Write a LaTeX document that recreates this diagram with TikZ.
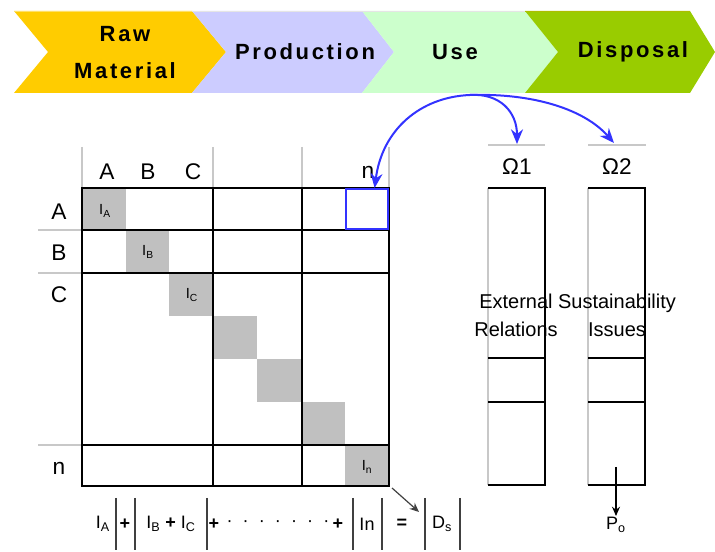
\documentclass[tikz,border=0pt]{standalone}
\usepackage{fontspec}
\setmainfont{Liberation Sans}
\newfontfamily\stagefont[LetterSpace=12]{Liberation Sans}
\usepackage{tikz}
\usetikzlibrary{arrows,arrows.meta}
\definecolor{rawgold}{HTML}{FFCC00}
\definecolor{prodlilac}{HTML}{CCCCFF}
\definecolor{usemint}{HTML}{CCFFCC}
\definecolor{dispgreen}{HTML}{99CC00}
\definecolor{cellgray}{HTML}{C0C0C0}
\definecolor{guidegray}{HTML}{C8C8C8}
\definecolor{linkblue}{HTML}{3333FF}

\begin{document}
\begin{tikzpicture}[x=0.75pt,y=0.75pt,yscale=-1,xscale=1]
  \useasboundingbox (0,0) rectangle (715,552);
  \tikzstyle{stage} = [font=\stagefont\bfseries\fontsize{16.5}{27.75}\selectfont, inner sep=0.75pt, align=center]
  \tikzstyle{hdr} = [font=\fontsize{17}{18}\selectfont, inner sep=0.75pt]
  \tikzstyle{small} = [font=\fontsize{11}{12}\selectfont, inner sep=0.75pt]
  \tikzstyle{sum} = [font=\fontsize{13.5}{15}\selectfont, inner sep=0.75pt]
  \tikzstyle{gridline} = [line width=1.5pt, black]
  \tikzstyle{guide} = [line width=1.1pt, guidegray]
  \tikzstyle{bar} = [line width=1pt, black!75]
  \tikzstyle{bluearrow} = [line width=1.5pt, linkblue, -{Stealth[length=11pt,width=9pt]}]
  \tikzstyle{arrow} = [line width=0.9pt, -{Stealth[length=7pt,width=6pt]}]

  %Draw the life cycle chevrons
  \fill [rawgold] (14,11) -- (192,11) -- (226,52) -- (192,93) -- (14,93) -- (48,52) -- cycle;
  \fill [prodlilac] (192,11) -- (362,11) -- (394,52) -- (362,93) -- (192,93) -- (226,52) -- cycle;
  \fill [usemint] (362,11) -- (525,11) -- (558,52) -- (525,93) -- (362,93) -- (394,52) -- cycle;
  \fill [dispgreen] (525,11) -- (690,11) -- (715,52) -- (690,93) -- (525,93) -- (558,52) -- cycle;
  \draw [line width=1.2pt, rawgold!60] (14,11.5) -- (192,11.5);
  \draw [line width=1.2pt, black!10] (192,11.5) -- (525,11.5);
  \draw [line width=1.2pt, dispgreen!60!black!50!yellow] (525,11.5) -- (690,11.5);
  \node [stage] (raw) at (125,53) {Raw\\Material};
  \node [stage] (prod) at (305,52) {Production};
  \node [stage] (use) at (455,52) {Use};
  \node [stage] (disp) at (633,52) {Disposal};

  %Gray diagonal cells
  \fill [cellgray] (82,188) rectangle (126,230);
  \fill [cellgray] (126,230) rectangle (169,273);
  \fill [cellgray] (169,273) rectangle (213,316);
  \fill [cellgray] (213,316) rectangle (257,359);
  \fill [cellgray] (257,359) rectangle (301,402);
  \fill [cellgray] (302,402) rectangle (345,445);
  \fill [cellgray] (345,445) rectangle (389,486);

  %Guide lines of the headers
  \draw [guide] (82,147) -- (82,188);
  \draw [guide] (213,147) -- (213,188);
  \draw [guide] (302,147) -- (302,188);
  \draw [guide] (389,147) -- (389,188);
  \draw [guide] (38,230) -- (82,230);
  \draw [guide] (38,273) -- (82,273);
  \draw [guide] (38,445) -- (82,445);

  %Draw the matrix
  \draw [gridline] (82,188) rectangle (389,486);
  \draw [gridline] (213,188) -- (213,486);
  \draw [gridline] (302,188) -- (302,486);
  \draw [gridline] (82,230) -- (389,230);
  \draw [gridline] (82,273) -- (389,273);
  \draw [gridline] (82,445) -- (389,445);
  \node [draw=linkblue, line width=1.5pt, minimum width=42*0.75pt, minimum height=40*0.75pt, inner sep=0pt] (bluecell) at (367,209) {};

  % Label the rows and columns
  \node [hdr] (colA) at (107,172) {A};
  \node [hdr] (colB) at (148,172) {B};
  \node [hdr] (colC) at (193,172) {C};
  \node [hdr] (coln) at (368,172) {n};
  \node [hdr] (rowA) at (59,212) {A};
  \node [hdr] (rowB) at (59,253) {B};
  \node [hdr] (rowC) at (59,295) {C};
  \node [hdr] (rown) at (59,468) {n};
  \node [small] (iA) at (105,211) {I\textsubscript{A}};
  \node [small] (iB) at (148,252) {I\textsubscript{B}};
  \node [small] (iC) at (192,295) {I\textsubscript{C}};
  \node [small] (iN) at (367,467) {I\textsubscript{n}};

  %Draw the two side columns
  \draw [guide] (488,145) -- (545,145);
  \draw [guide] (588,145) -- (646,145);
  \draw [guide] (488,188) -- (488,485);
  \draw [guide] (588,188) -- (588,485);
  \draw [gridline] (488,188) -- (545,188) -- (545,485) -- (488,485);
  \draw [gridline] (588,188) -- (645,188) -- (645,485) -- (588,485);
  \draw [gridline] (488,358) -- (545,358);
  \draw [gridline] (488,402) -- (545,402);
  \draw [gridline] (588,358) -- (645,358);
  \draw [gridline] (588,402) -- (645,402);
  \node [hdr] (omega1) at (517,167) {Ω1};
  \node [hdr] (omega2) at (617,167) {Ω2};
  \node [hdr, font=\fontsize{15}{21}\selectfont, align=center] (extrel) at (516,315) {External\\Relations};
  \node [hdr, font=\fontsize{15}{21}\selectfont, align=center] (susiss) at (617,315) {Sustainability\\Issues};
  \node [sum] (po) at (616,525) {P\textsubscript{o}};

  %Sum along the bottom
  \node [sum] (sA) at (103,524) {I\textsubscript{A}};
  \node [sum] (p1) at (125,524) {\textbf{+}};
  \node [sum] (sBC) at (171,524) {I\textsubscript{B} \textbf{+} I\textsubscript{C}};
  \node [sum] (p2) at (214,524) {\textbf{+}};
  \node [sum] (dots) at (278,524) {\textperiodcentered\hspace{7.6pt}\textperiodcentered\hspace{7.6pt}\textperiodcentered\hspace{7.6pt}\textperiodcentered\hspace{7.6pt}\textperiodcentered\hspace{7.6pt}\textperiodcentered\hspace{7.6pt}\textperiodcentered};
  \node [sum] (p3) at (338,524) {\textbf{+}};
  \node [sum] (sn) at (367,524) {In};
  \node [sum] (eq) at (402,524) {\textbf{=}};
  \node [sum] (ds) at (442,524) {D\textsubscript{s}};
  \draw [bar] (116,498) -- (116,550);
  \draw [bar] (135,498) -- (135,550);
  \draw [bar] (207,498) -- (207,550);
  \draw [bar] (353,498) -- (353,550);
  \draw [bar] (382,498) -- (382,550);
  \draw [bar] (425,498) -- (425,550);
  \draw [bar] (460,498) -- (460,550);

  %Arrows
  \coordinate (usebase) at (470,95);
  \coordinate (top1) at (517,144);
  \coordinate (top2) at (614,143);
  \coordinate (corner) at (392,488);
  \coordinate (cornerend) at (419,512);
  \coordinate (pstart) at (616,467);
  \draw [bluearrow] (usebase) .. controls (420,97) and (382,130) .. (bluecell.70);
  \draw [bluearrow] (usebase) .. controls (500,93) and (517,112) .. (top1);
  \draw [bluearrow] (usebase) .. controls (535,93) and (585,110) .. (top2);
  \draw [arrow, black!75] (corner) -- (cornerend);
  \draw [arrow, black] (pstart) -- (po.north);
\end{tikzpicture}
\end{document}
